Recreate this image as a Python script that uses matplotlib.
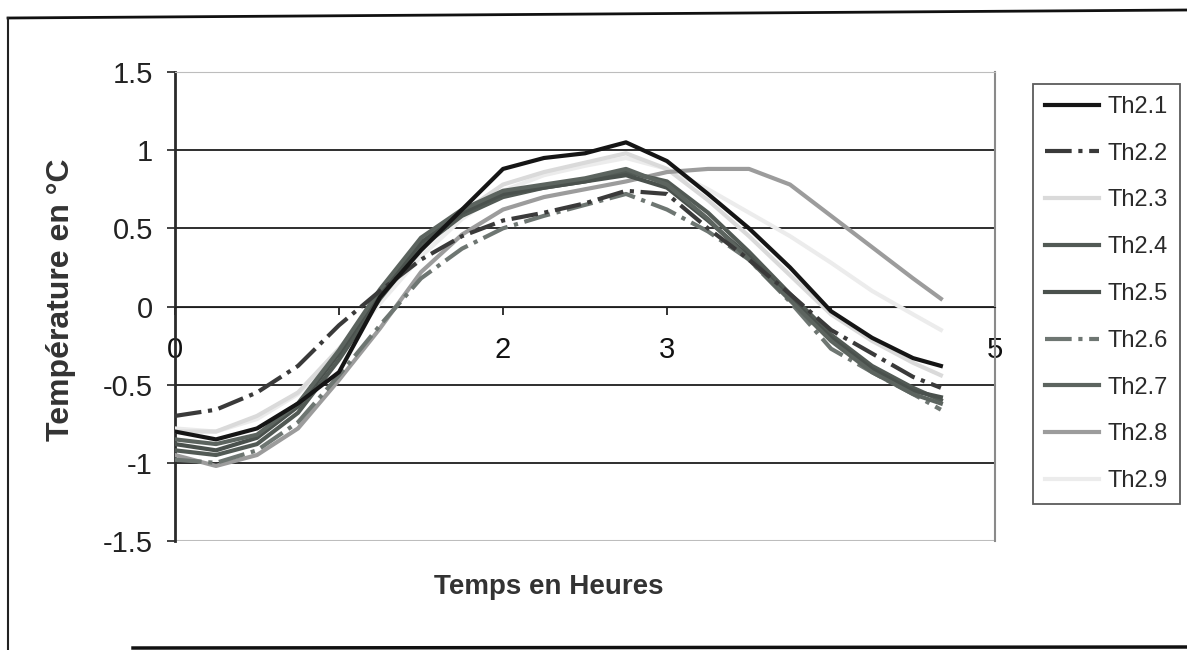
import matplotlib
matplotlib.use("Agg")
import matplotlib.pyplot as plt
from matplotlib.lines import Line2D
import numpy as np

plt.rcParams['font.family'] = ['Liberation Sans', 'DejaVu Sans']

# time in hours
hours = [0, 0.25, 0.5, 0.75, 1.0, 1.25, 1.5, 1.75, 2.0, 2.25,
         2.5, 2.75, 3.0, 3.25, 3.5, 3.75, 4.0, 4.25, 4.5, 4.67]

th2_1 = [-0.80, -0.85, -0.78, -0.62, -0.42, 0.06, 0.36, 0.62, 0.88, 0.95,
         0.98, 1.05, 0.93, 0.72, 0.50, 0.25, -0.03, -0.20, -0.33, -0.38]
th2_2 = [-0.70, -0.66, -0.55, -0.38, -0.12, 0.10, 0.30, 0.45, 0.55, 0.60,
         0.66, 0.74, 0.72, 0.50, 0.30, 0.08, -0.15, -0.30, -0.45, -0.52]
th2_3 = [-0.80, -0.80, -0.70, -0.55, -0.27, 0.05, 0.36, 0.60, 0.78, 0.86,
         0.92, 0.98, 0.88, 0.68, 0.45, 0.20, -0.05, -0.22, -0.36, -0.44]
th2_4 = [-0.92, -0.95, -0.88, -0.68, -0.34, 0.05, 0.38, 0.58, 0.70, 0.76,
         0.80, 0.86, 0.80, 0.60, 0.35, 0.08, -0.18, -0.38, -0.52, -0.60]
th2_5 = [-0.88, -0.92, -0.84, -0.64, -0.30, 0.09, 0.41, 0.60, 0.72, 0.76,
         0.80, 0.84, 0.76, 0.55, 0.32, 0.05, -0.20, -0.40, -0.54, -0.58]
th2_6 = [-0.98, -1.00, -0.92, -0.74, -0.44, -0.12, 0.18, 0.37, 0.50, 0.58,
         0.65, 0.72, 0.62, 0.48, 0.30, 0.03, -0.27, -0.42, -0.56, -0.66]
th2_7 = [-0.85, -0.88, -0.82, -0.62, -0.28, 0.11, 0.44, 0.62, 0.74, 0.78,
         0.82, 0.88, 0.78, 0.56, 0.30, 0.04, -0.22, -0.42, -0.56, -0.62]
th2_8 = [-0.95, -1.02, -0.95, -0.78, -0.47, -0.14, 0.22, 0.46, 0.62, 0.70,
         0.75, 0.80, 0.86, 0.88, 0.88, 0.78, 0.58, 0.38, 0.18, 0.05]
th2_9 = [-0.78, -0.80, -0.72, -0.56, -0.30, 0.02, 0.32, 0.56, 0.74, 0.84,
         0.90, 0.95, 0.88, 0.75, 0.60, 0.45, 0.28, 0.10, -0.05, -0.15]

series_names = ['Th2.1', 'Th2.2', 'Th2.3', 'Th2.4', 'Th2.5',
                'Th2.6', 'Th2.7', 'Th2.8', 'Th2.9']
series_vals = [th2_1, th2_2, th2_3, th2_4, th2_5, th2_6, th2_7, th2_8, th2_9]

y_ticks = [-1.5, -1, -0.5, 0, 0.5, 1, 1.5]
y_tick_labels = ['-1.5', '-1', '-0.5', '0', '0.5', '1', '1.5']
x_ticks = [0, 1, 2, 3, 4, 5]
x_tick_labels = ['0', '', '2', '3', '', '5']

colors = ['#151515', '#3a3a3a', '#dadada', '#525a55', '#4a514d',
          '#6e7672', '#5c645f', '#9c9c9c', '#ececec']
styles = ['-', '-.', '-', '-', '-', '-.', '-', '-', '-']

fig = plt.figure(figsize=(11.87, 6.5), dpi=100)
ax = fig.add_axes([175/1187, 1 - 541/650, 820/1187, 469/650])

# light ones first so the dark bundle sits on top
order = [8, 2, 7, 5, 3, 4, 6, 1, 0]
for k, i in enumerate(order):
    ax.plot(hours, series_vals[i], color=colors[i], linestyle=styles[i],
            lw=3.0, label=series_names[i], zorder=3 + k * 0.1)

ax.set_xlim(0, 5)
ax.set_ylim(-1.5, 1.5)
ax.set_yticks(y_ticks)
ax.set_yticklabels(y_tick_labels)
ax.set_xticks(x_ticks)
ax.set_xticklabels(x_tick_labels)

ax.yaxis.grid(True, color='#1e1e1e', lw=1.3)
gl = ax.get_ygridlines()
gl[0].set_color('#bdbdbd')
gl[-1].set_color('#bdbdbd')
ax.set_axisbelow(True)

ax.spines['bottom'].set_position(('data', 0))
ax.spines['bottom'].set_color('#1e1e1e')
ax.spines['left'].set_color('#2a2a2a')
ax.spines['left'].set_linewidth(2)
ax.spines['top'].set_color('#bdbdbd')
ax.spines['right'].set_color('#8a8a8a')
ax.spines['right'].set_linestyle((0, (2, 1)))
ax.spines['right'].set_linewidth(1.5)
ax.axhline(-1.5, color='#bdbdbd', lw=1.5, zorder=1)

ax.tick_params(axis='y', direction='out', length=6, width=1.2,
               labelsize=21, pad=10, colors='#222222')
ax.tick_params(axis='x', direction='out', length=6, width=1.2,
               labelsize=21, pad=15, colors='#111111')

fig.text(61/1187, 1 - 300/650, 'Température en °C', rotation=90,
         ha='center', va='center', fontsize=23, fontweight='bold',
         color='#333333')
fig.text(549/1187, 1 - 587/650, 'Temps en Heures', ha='center',
         va='center', fontsize=20, fontweight='bold', color='#333333')

handles, labels = ax.get_legend_handles_labels()
by_label = dict(zip(labels, handles))
leg = fig.legend([by_label[n] for n in series_names], series_names,
                 loc='upper left',
                 bbox_to_anchor=(1033/1187, 1 - 84/650),
                 fontsize=17, frameon=True, fancybox=False,
                 borderpad=0.5, labelspacing=1.05, handlelength=2.3,
                 handletextpad=0.35, borderaxespad=0)
leg.get_frame().set_edgecolor('#333333')
leg.get_frame().set_linewidth(1.3)
for t in leg.get_texts():
    t.set_color('#2a2a2a')

# outer chart frame (scan shows top, left and bottom edges)
fig.add_artist(Line2D([8/1187, 1.0], [1 - 18/650, 1 - 10/650],
                      color='#111111', lw=2, transform=fig.transFigure))
fig.add_artist(Line2D([8/1187, 8/1187], [1 - 18/650, 0.0],
                      color='#222222', lw=1.5, transform=fig.transFigure))
fig.add_artist(Line2D([133/1187, 1.0], [2/650, 3/650],
                      color='#111111', lw=2.5, transform=fig.transFigure))

fig.savefig('out.png', dpi=100)
